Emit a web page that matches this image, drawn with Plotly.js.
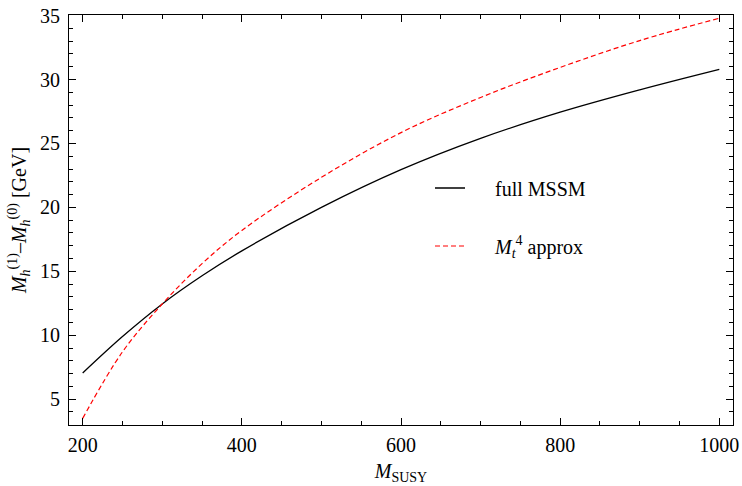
<!DOCTYPE html>
<html><head><meta charset="utf-8">
<script src="https://cdn.plot.ly/plotly-3.0.1.min.js"></script>
<style>html,body{margin:0;padding:0;background:#fff}</style>
</head><body>
<div id="chart" style="width:742px;height:486px"></div>
<script>
// Data
const mSusy     = [200, 250, 300, 350, 400, 500, 600, 700, 800, 900, 1000];
const fullMSSM  = [7.05, 9.9, 12.45, 14.65, 16.6, 20.0, 22.95, 25.4, 27.45, 29.2, 30.8];
const mt4Approx = [3.5, 8.7, 12.45, 15.6, 18.2, 22.35, 25.85, 28.6, 30.95, 33.05, 34.8];
const xTickVals = [200, 400, 600, 800, 1000];
const yTickVals = [5, 10, 15, 20, 25, 30, 35];
const seriesNames = ['full MSSM', '<i>M<sub>t</sub></i><sup>4</sup> approx'];

const W = 742, H = 486;
const M = {l: 69, r: 9, t: 15, b: 61};
const pw = W - M.l - M.r, ph = H - M.t - M.b;
const px = v => (v - M.l) / pw;
const py = v => (H - M.b - v) / ph;
const FONT = "'Liberation Serif', 'Times New Roman', serif";
const pad = '\u00a0\u00a0\u00a0\u00a0\u00a0';

const traces = [
  {x: mSusy, y: fullMSSM, name: pad + seriesNames[0], mode: 'lines',
   line: {color: '#000', width: 1.3, shape: 'spline', smoothing: 1}, legend: 'legend'},
  {x: mSusy, y: mt4Approx, name: pad + seriesNames[1], mode: 'lines',
   line: {color: '#ff0000', width: 1.2, dash: '5px,3px', shape: 'spline', smoothing: 1}, legend: 'legend2'}
];

const axisCommon = {
  showline: true, linecolor: '#000', linewidth: 1, mirror: 'allticks',
  ticks: 'inside', ticklen: 7, tickwidth: 1, tickcolor: '#000',
  showgrid: false, zeroline: false,
  tickfont: {family: FONT, size: 20, color: '#000'}
};

const layout = {
  width: W, height: H, margin: M,
  paper_bgcolor: '#fff', plot_bgcolor: '#fff',
  font: {family: FONT, size: 20, color: '#000'},
  showlegend: true,
  xaxis: Object.assign({}, axisCommon, {
    range: [182.8, 1017.2], tickmode: 'array', tickvals: xTickVals,
    ticktext: xTickVals.map(String), ticklabelstandoff: 2,
    minor: {dtick: 50, tick0: 0, ticks: 'inside', ticklen: 4, tickcolor: '#000', tickwidth: 1},
    title: {text: '<i>M</i><sub>SUSY</sub>', font: {family: FONT, size: 20}, standoff: 8}
  }),
  yaxis: Object.assign({}, axisCommon, {
    range: [2.98, 35.05], tickmode: 'array', tickvals: yTickVals,
    ticktext: yTickVals.map(String), ticklabelstandoff: 4,
    minor: {dtick: 1, tick0: 0, ticks: 'inside', ticklen: 4, tickcolor: '#000', tickwidth: 1},
    title: {text: '<i>M<sub>h</sub></i><sup>(1)</sup>\u2013<i>M<sub>h</sub></i><sup>(0)</sup> [GeV]',
            font: {family: FONT, size: 20}, standoff: 8}
  }),
  legend: {x: px(430), y: py(188), xanchor: 'left', yanchor: 'middle',
           bgcolor: 'rgba(0,0,0,0)', borderwidth: 0, font: {family: FONT, size: 20}},
  legend2: {x: px(430), y: py(246), xanchor: 'left', yanchor: 'middle',
           bgcolor: 'rgba(0,0,0,0)', borderwidth: 0, font: {family: FONT, size: 20}}
};

Plotly.newPlot('chart', traces, layout, {displayModeBar: false, staticPlot: true});
</script>
</body></html>
